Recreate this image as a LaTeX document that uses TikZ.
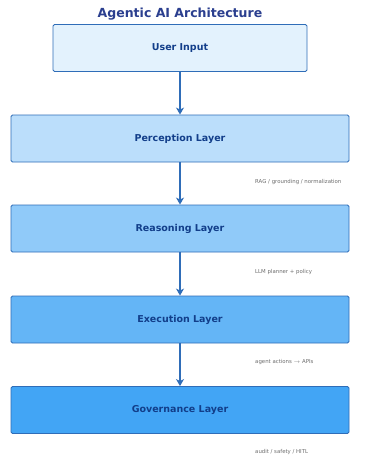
\documentclass[tikz,border=0pt]{standalone}
\usepackage{fontspec}
\setmainfont{DejaVu Sans}
\usetikzlibrary{arrows.meta}
\definecolor{titleblue}{HTML}{2B3F8F}
\definecolor{textblue}{HTML}{123E8A}
\definecolor{edgeblue}{HTML}{2F6DB8}
\definecolor{fillA}{HTML}{E3F2FD}
\definecolor{fillB}{HTML}{BBDEFB}
\definecolor{fillC}{HTML}{90CAF9}
\definecolor{fillD}{HTML}{64B5F6}
\definecolor{fillE}{HTML}{42A5F5}
\definecolor{notegray}{HTML}{6E6E6E}
\begin{document}
\begin{tikzpicture}[x=1pt,y=-1pt,
    layerbox/.style={draw=edgeblue, line width=0.9pt, rounded corners=1.5pt, minimum height=47pt, text=textblue, font=\fontsize{9.5}{11}\selectfont\bfseries},
    flow/.style={draw=edgeblue, line width=1.2pt, -{Stealth[length=7pt,width=8pt,inset=2pt]}},
    note/.style={anchor=west, text=notegray, font=\fontsize{5.4}{6}\selectfont, inner sep=0pt}]
        \useasboundingbox[fill=white] (0,0) rectangle (376,455);
        \node[text=titleblue, font=\fontsize{12.5}{14}\selectfont\bfseries] (title) at (180,14) {Agentic AI Architecture};

        \node[layerbox, fill=fillA, minimum width=254pt] (input) at (180,48) {User Input};
        \node[layerbox, fill=fillB, minimum width=338pt] (perception) at (180,138.5) {Perception Layer};
        \node[layerbox, fill=fillC, minimum width=338pt] (reasoning) at (180,228.5) {Reasoning Layer};
        \node[layerbox, fill=fillD, minimum width=338pt] (execution) at (180,319.5) {Execution Layer};
        \node[layerbox, fill=fillE, minimum width=338pt] (governance) at (180,410) {Governance Layer};

        \node[note] (n1) at (255,182) {RAG / grounding / normalization};
        \node[note] (n2) at (255,272) {LLM planner + policy};
        \node[note] (n3) at (255,362) {agent actions $\rightarrow$ APIs};
        \node[note] (n4) at (255,452) {audit / safety / HITL};

        \path[flow] (input) -- (perception);
        \path[flow] (perception) -- (reasoning);
        \path[flow] (reasoning) -- (execution);
        \path[flow] (execution) -- (governance);
    \end{tikzpicture}
\end{document}
